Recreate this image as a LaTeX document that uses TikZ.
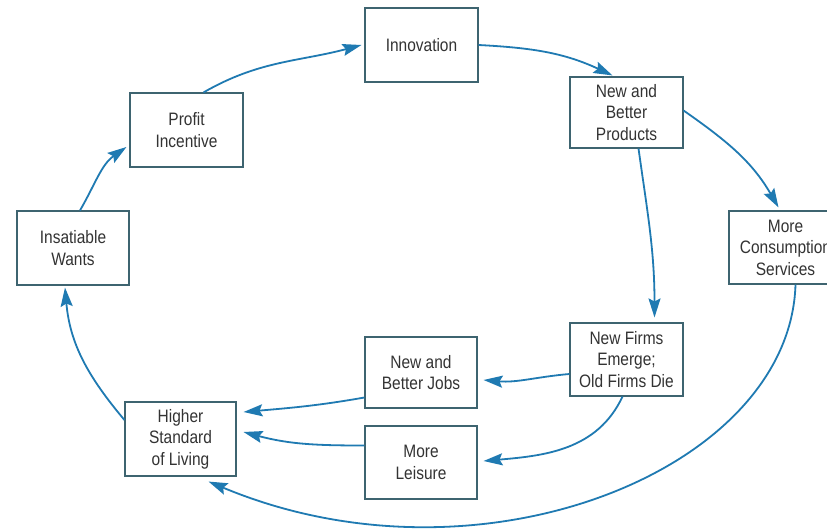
\documentclass[tikz,border=0pt]{standalone}
\usepackage{fontspec}
\setmainfont[FakeStretch=0.86]{Liberation Sans}
\usetikzlibrary{arrows.meta}
\definecolor{arrowblue}{HTML}{1F7AB2}
\definecolor{boxline}{HTML}{3E6470}
\definecolor{txt}{HTML}{333333}
\tikzset{
  box/.style={draw=boxline, line width=1.1pt, fill=white, rectangle, align=center,
    inner sep=0pt, text=txt, font=\fontsize{18}{21.5}\selectfont},
  flow/.style={draw=arrowblue, line width=1.8pt, -{Stealth[length=19pt,width=12pt,inset=3pt]}}
}
\begin{document}
\begin{tikzpicture}[x=1pt,y=-1pt]
\useasboundingbox (0,0) rectangle (827,529);
\clip (0,0) rectangle (827,529);
\fill[white] (0,0) rectangle (827,529);
\node[box, minimum width=113pt, minimum height=74pt] (inn) at (421.5,45) {Innovation};
\node[box, minimum width=113pt, minimum height=74pt] (pro) at (186.5,130) {Profit\\Incentive};
\node[box, minimum width=112pt, minimum height=74pt] (ins) at (73,248) {Insatiable\\Wants};
\node[box, minimum width=113pt, minimum height=71pt] (nbp) at (626.5,112.5) {New and\\Better\\Products};
\node[box, minimum width=113pt, minimum height=73pt] (mcs) at (785.5,247.5) {More\\Consumption\\Services};
\node[box, minimum width=113pt, minimum height=73pt] (nfe) at (626.5,359.5) {New Firms\\Emerge;\\Old Firms Die};
\node[box, minimum width=112pt, minimum height=71pt] (nbj) at (421,372.5) {New and\\Better Jobs};
\node[box, minimum width=112pt, minimum height=73pt] (ml) at (421,462.5) {More\\Leisure};
\node[box, minimum width=111pt, minimum height=74pt] (hsl) at (180.5,439) {Higher\\Standard\\of Living};

\draw[flow] ([xshift=17pt]pro.north) to[out=30,in=195] ([xshift=-3pt]inn.west);
\draw[flow] (inn.east) to[out=-3,in=155] ([xshift=-14pt,yshift=1pt]nbp.north);
\draw[flow] ([yshift=2pt]nbp.east) to[out=-35,in=120] ([xshift=-7pt,yshift=3pt]mcs.north);
\draw[flow] ([xshift=12pt]nbp.south) to[out=-82,in=90] ([xshift=28pt,yshift=5pt]nfe.north);
\draw[flow] ([yshift=-14.5pt]nfe.west) to[out=185,in=-5] ([xshift=6pt,yshift=-7.5pt]nbj.east);
\draw[flow] ([xshift=-4pt]nfe.south) to[out=-115,in=5] ([xshift=6pt,yshift=1.5pt]ml.east);
\draw[flow] ([yshift=-25pt]nbj.west) to[out=190,in=5] ([xshift=7pt,yshift=27pt]hsl.east);
\draw[flow] ([yshift=17pt]ml.west) to[out=180,in=-15] ([xshift=7pt,yshift=7pt]hsl.east);
\draw[flow] ([xshift=10pt]mcs.south) .. controls (790,470) and (480,595) .. ([xshift=28pt,yshift=-5pt]hsl.south);
\draw[flow] ([yshift=19pt]hsl.west) to[out=130,in=-85] ([xshift=-8pt,yshift=-2pt]ins.south);
\draw[flow] ([xshift=7pt]ins.north) to[out=60,in=215] ([xshift=-3pt,yshift=-17pt]pro.west);
\end{tikzpicture}
\end{document}
